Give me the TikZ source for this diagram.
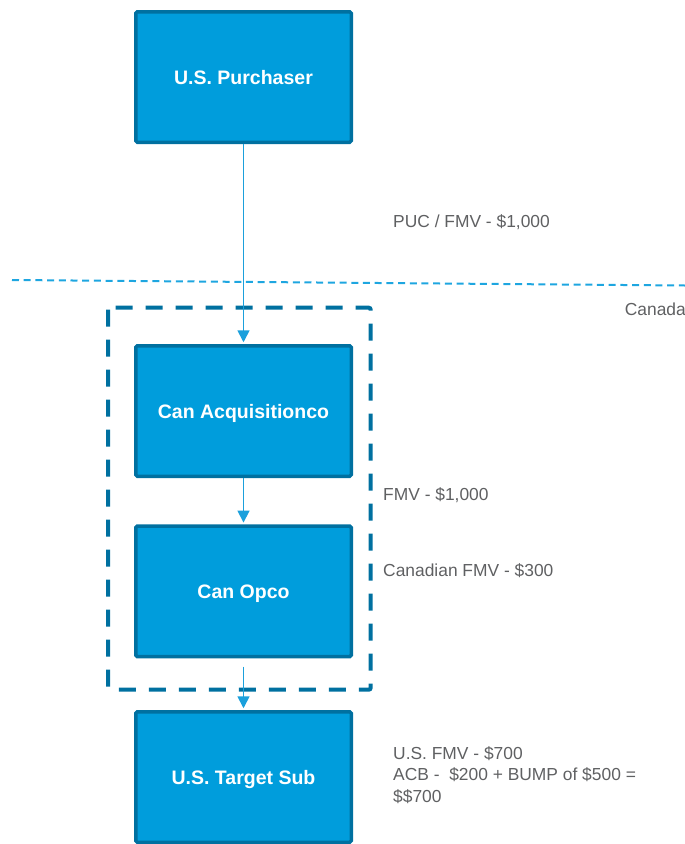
\documentclass[tikz,border=0pt]{standalone}
\usepackage{fontspec}
\setmainfont{Liberation Sans}
\usetikzlibrary{arrows.meta}
\definecolor{boxfill}{RGB}{0,157,220}
\definecolor{boxedge}{RGB}{0,112,160}
\definecolor{arrowc}{RGB}{27,160,220}
\definecolor{linec}{RGB}{30,166,224}
\definecolor{txtgray}{RGB}{95,96,98}
\tikzset{
  entity/.style={draw=boxedge, fill=boxfill, line width=3.5pt, rounded corners=1.5pt,
    minimum width=215.5pt, minimum height=130.5pt, inner sep=0pt,
    text height=14pt, text depth=0pt,
    text=white, font=\fontsize{19.5}{22}\selectfont\bfseries},
  flow/.style={draw=arrowc, line width=1.7pt, -{Triangle[width=12pt,length=12pt]}},
  note/.style={text=txtgray, font=\fontsize{17.4}{21.5}\selectfont, anchor=west, inner sep=0pt, align=left},
}
\begin{document}
\begin{tikzpicture}[x=1pt,y=-1pt]
\useasboundingbox (0,0) rectangle (685,844);
% border line
\coordinate (bl) at (12,280);
\coordinate (br) at (685,285.5);
\draw[linec, line width=2pt, dash pattern=on 7pt off 4.7pt] (bl) -- (br);
% dashed group
\draw[boxedge, line width=4pt, dash pattern=on 17pt off 13pt, rounded corners=2pt] (108,307.7) rectangle (370.7,689.7);
% entities
\node[entity] (pur) at (243.5,77) {U.S. Purchaser};
\node[entity] (acq) at (243.5,411) {Can Acquisitionco};
\node[entity] (opco) at (243.5,591.3) {Can Opco};
\node[entity] (tgt) at (243.5,777) {U.S. Target Sub};
% connectors
\draw[flow, shorten >=1.75pt] (pur.south) -- (acq.north);
\draw[flow, shorten >=1.75pt] (acq.south) -- (opco.north);
\coordinate (ostart) at (243.5,666.7);
\draw[flow, shorten >=1.75pt] (ostart) -- (tgt.north);
% notes
\node[note] (n1) at (393,222) {PUC / FMV - \$1,000};
\node[note, anchor=east] (can) at (686,309) {Canada};
\node[note] (n2) at (383,495) {FMV - \$1,000};
\node[note] (n3) at (383,571) {Canadian FMV - \$300};
\node[note, anchor=north west] (n4) at (393,746) {U.S. FMV - \$700\\ACB -\ \ \$200 + BUMP of \$500 =\\\$\$700};
\end{tikzpicture}
\end{document}
